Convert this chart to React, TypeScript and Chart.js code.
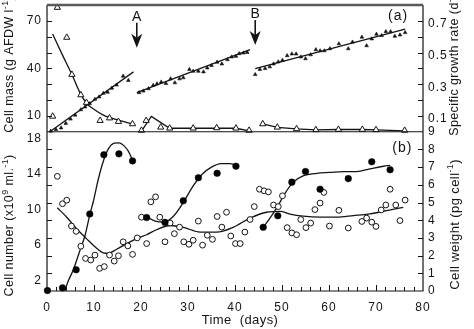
import React, { useEffect, useRef } from 'react';
import { Chart, registerables } from 'chart.js';

Chart.register(...registerables);

const FONT = '"Liberation Sans", Arial, Helvetica, sans-serif';

// ---------- Panel (a): cell mass (filled triangles) ----------
const massDay = [0.8, 1.9, 3.0, 4.0, 5.0, 6.0, 7.2, 8.1, 9.1, 10.2, 11.1, 12.0, 12.9, 13.8, 14.8, 16.2, 17.3,
  19.6, 20.5, 21.6, 22.6, 23.4, 24.3, 25.3, 26.3, 27.2, 28.2, 29.0, 30.3, 31.1, 32.2, 33.3, 34.1, 35.0, 36.2, 37.2, 38.4, 39.3, 40.2, 40.9, 41.8, 42.6,
  44.3, 45.3, 46.4, 47.4, 48.2, 49.2, 50.1, 51.1, 52.1, 53.0, 54.0, 55.0, 56.1, 57.2, 58.1, 59.0, 60.2, 62.1, 64.1, 65.0, 67.0, 68.0, 69.1, 70.1, 71.2, 72.1, 73.1, 74.0, 75.1, 76.2];
const massVal = [0.4, 1.4, 2.4, 5.3, 8.0, 10.5, 13.9, 15.6, 17.8, 20.5, 22.0, 24.3, 25.0, 27.5, 29.5, 35.1, 32.4,
  24.7, 25.7, 27.2, 29.3, 30.3, 31.4, 30.5, 33.4, 30.9, 33.4, 34.1, 39.3, 38.2, 38.2, 37.8, 40.3, 41.8, 43.9, 42.8, 45.5, 47.2, 47.6, 49.3, 49.7, 50.1,
  36.1, 39.3, 39.9, 41.0, 42.8, 44.1, 45.1, 48.0, 49.1, 49.1, 47.2, 46.1, 48.6, 51.8, 51.1, 51.1, 52.4, 55.5, 52.4, 56.6, 59.7, 54.3, 58.6, 61.6, 60.7, 63.2, 63.2, 60.3, 61.1, 62.6];
// regression lines for cell mass
const massFit1Day = [0.6, 18.4];
const massFit1Val = [0, 37.8];
const massFit2Day = [19.1, 43.2];
const massFit2Val = [24.7, 51.8];
const massFit3Day = [44.3, 76.2];
const massFit3Val = [39.9, 64.7];

// ---------- Panel (a): specific growth rate (open triangles) ----------
const growthDay = [1.2, 2.2, 4.2, 5.3, 7.2, 8.4, 11.3, 13.3, 15.2, 18.2, 20.1, 21.1, 24.2, 26.1, 31.1, 36.1, 40.2, 43.0, 45.9, 49.0, 53.1, 57.2, 62.0, 67.1, 70.0, 76.1];
const growthVal = [0.097, 0.784, 0.595, 0.361, 0.232, 0.184, 0.07, 0.086, 0.064, 0.049, 0.008, 0.07, 0.028, 0.022, 0.022, 0.024, 0.022, 0.008, 0.049, 0.028, 0.018, 0.012, 0.014, 0.014, 0.012, 0.008];
const growthFit1Day = [1.2, 3.2, 5.3, 7.0, 8.4, 9.9, 12.0, 14.8, 18.2];
const growthFit1Val = [0.617, 0.49, 0.361, 0.247, 0.18, 0.143, 0.105, 0.076, 0.049];
const growthFit2Day = [20.1, 22.2, 26.1, 40.2, 43.0];
const growthFit2Val = [0.004, 0.097, 0.022, 0.022, 0.005];
const growthFit3Day = [45.9, 49.0, 53.1, 57.2, 62.0, 67.1, 70.0, 76.1];
const growthFit3Val = [0.049, 0.028, 0.018, 0.012, 0.014, 0.014, 0.012, 0.005];

// ---------- Panel (b): cell number (filled circles) ----------
const numDay = [0.1, 3.3, 6.2, 9.1, 12.1, 15.3, 18.2, 21.2, 25.1, 29.0, 32.2, 36.2, 40.2, 46.0, 49.1, 52.1, 55.0, 58.1, 64.1, 69.1, 73.0];
const numVal = [0.05, 0.35, 2.4, 8.7, 15.4, 15.5, 14.7, 8.3, 7.75, 10.2, 12.8, 13.3, 14.1, 7.2, 8.5, 12.3, 13.5, 11.5, 12.7, 14.6, 13.7];
const numFit1Day = [3.8, 4.5, 5.6, 6.9, 8.1, 9.1, 9.9, 10.9, 12.0, 13.0, 14.3, 15.4, 16.4, 17.3, 18.2];
const numFit1Val = [0.05, 1.1, 2.4, 4.4, 6.3, 8.6, 10.2, 12.6, 14.7, 16.0, 16.7, 16.75, 16.4, 15.8, 14.8];
const numFit2Day = [21.2, 23, 25, 27, 29, 31, 33, 35, 37, 39, 40.7];
const numFit2Val = [8.4, 7.9, 7.8, 8.5, 10.0, 11.8, 13.2, 14.0, 14.4, 14.4, 14.1];
const numFit3Day = [46.0, 47.4, 49.0, 50.6, 52.4, 54.5, 57.4, 60.2, 63.0, 65.9, 68.7, 71.6, 73.0];
const numFit3Val = [7.2, 8.2, 9.5, 11.0, 12.3, 13.0, 13.3, 13.4, 13.5, 13.5, 13.8, 14.1, 14.2];

// ---------- Panel (b): cell weight (open circles) ----------
const weightDay = [2.2, 3.3, 4.2, 5.2, 6.2, 7.2, 8.2, 9.3, 10.2, 11.2, 12.2, 13.3, 14.3, 15.2, 16.2, 17.2, 18.2, 19.2, 20.1, 21.2, 22.1, 23.1, 24.0,
  25.1, 26.2, 27.1, 28.2, 29.1, 30.2, 31.1, 32.2, 33.1, 34.1, 35.2, 36.2, 37.2, 38.2, 39.1, 40.1, 41.1, 42.1, 43.2, 44.1, 45.2, 46.2, 47.1, 48.2, 49.2,
  50.1, 51.1, 52.1, 53.1, 54.0, 55.1, 56.1, 57.0, 58.1, 58.9, 60.1, 62.1, 64.1, 67.0, 68.0, 69.1, 70.0, 71.1, 72.1, 73.0, 74.2, 75.1, 76.2];
const weightVal = [6.48, 4.93, 5.13, 3.67, 3.37, 2.53, 1.84, 1.75, 2.03, 1.28, 1.38, 2.03, 1.69, 1.99, 2.78, 2.55, 2.07, 3.0, 4.17, 2.68, 5.04, 5.32, 4.17,
  2.78, 3.84, 3.24, 3.61, 2.78, 2.64, 2.87, 3.95, 2.59, 3.15, 2.92, 4.21, 3.61, 4.45, 3.11, 2.68, 2.68, 3.33, 4.04, 4.77, 5.75, 5.66, 5.6, 4.86, 4.77,
  5.38, 3.58, 3.28, 3.18, 4.04, 3.58, 3.84, 4.6, 4.97, 5.57, 3.67, 4.56, 3.56, 3.93, 4.12, 3.89, 3.65, 4.58, 4.86, 5.75, 4.86, 3.98, 5.14];
const weightFitDay = [2.2, 4.2, 6.3, 8.4, 10.2, 12.0, 13.0, 14.8, 17.0, 19.1, 21.2, 23.3, 26.2, 29.0, 32.6, 36.1, 39.6, 43.2, 46.7, 49.6, 51.7, 54.5, 58.1, 61.6, 65.2, 68.7, 72.3, 75.8];
const weightFitVal = [4.70, 4.17, 3.52, 2.96, 2.50, 2.15, 2.12, 2.36, 2.68, 2.96, 3.18, 3.46, 3.70, 3.60, 3.33, 3.33, 3.60, 4.12, 4.45, 4.50, 4.35, 4.23, 4.17, 4.17, 4.26, 4.36, 4.54, 4.73];

// ---------- annotations ----------
const arrowDay = [19.1, 44.3];
const arrowLabel = ['A', 'B'];
const arrowTipMass = [53, 54.7];

const pts = (xs: number[], ys: number[]) => xs.map((x, i) => ({ x, y: ys[i] }));

const INK = '#141414';

function lineDs(xs: number[], ys: number[], axis: string, smooth: boolean) {
  return {
    data: pts(xs, ys),
    yAxisID: axis,
    showLine: true,
    borderColor: INK,
    borderWidth: 1.3,
    pointRadius: 0,
    tension: smooth ? 0.4 : 0,
    cubicInterpolationMode: smooth ? 'monotone' : 'default',
    fill: false,
  };
}

type Part = { t: string; sup?: boolean };

function drawRich(ctx: CanvasRenderingContext2D, parts: Part[], cx: number, cy: number, rotate: boolean, size: number) {
  ctx.save();
  ctx.translate(cx, cy);
  if (rotate) ctx.rotate(-Math.PI / 2);
  (ctx as any).letterSpacing = '0.4px';
  const fonts = parts.map((p) => `${p.sup ? Math.round(size * 0.72) : size}px ${FONT}`);
  let total = 0;
  parts.forEach((p, i) => {
    ctx.font = fonts[i];
    total += ctx.measureText(p.t).width;
  });
  let x = -total / 2;
  ctx.textBaseline = 'middle';
  ctx.textAlign = 'left';
  ctx.fillStyle = INK;
  parts.forEach((p, i) => {
    ctx.font = fonts[i];
    ctx.fillText(p.t, x, p.sup ? -size * 0.38 : 0);
    x += ctx.measureText(p.t).width;
  });
  ctx.restore();
}

const decor = {
  id: 'decor',
  beforeDraw(chart: any) {
    const ctx = chart.ctx;
    ctx.save();
    ctx.fillStyle = '#fff';
    ctx.fillRect(0, 0, chart.width, chart.height);
    ctx.restore();
    (ctx as any).letterSpacing = '1px';
  },
  beforeDatasetsDraw(chart: any) {
    (chart.ctx as any).letterSpacing = '0px';
  },
  afterDraw(chart: any) {
    const ctx: CanvasRenderingContext2D = chart.ctx;
    const { left, right, top, bottom } = chart.chartArea;
    const sx = chart.scales.x;
    const sm = chart.scales.yMass;
    const sc = chart.scales.yCell;
    const sg = chart.scales.yGrowth;
    const sw = chart.scales.yWeight;
    const sep = sm.bottom;
    ctx.save();
    // frame
    ctx.strokeStyle = INK;
    ctx.lineWidth = 1.2;
    ctx.beginPath();
    ctx.moveTo(left, top);
    ctx.lineTo(left, bottom);
    ctx.lineTo(right, bottom);
    ctx.lineTo(right, top);
    ctx.moveTo(left, sep);
    ctx.lineTo(right, sep);
    ctx.stroke();
    ctx.strokeStyle = '#5a5a5a';
    ctx.lineWidth = 2.4;
    ctx.beginPath();
    ctx.moveTo(left, top);
    ctx.lineTo(right, top);
    ctx.stroke();

    // inward ticks
    ctx.strokeStyle = INK;
    ctx.lineWidth = 1;
    ctx.beginPath();
    for (const t of sx.ticks) {
      const v = t.value;
      if (v <= 0 || v >= 80) continue;
      const px = Math.round(sx.getPixelForValue(v)) + 0.5;
      const len = v % 10 === 0 ? 6 : 4;
      ctx.moveTo(px, bottom);
      ctx.lineTo(px, bottom - len);
    }
    for (const t of sm.ticks) {
      if (t.value <= 0 || t.value >= 80) continue;
      const py = Math.round(sm.getPixelForValue(t.value)) + 0.5;
      ctx.moveTo(left, py);
      ctx.lineTo(left + 5, py);
    }
    for (const t of sc.ticks) {
      if (t.value <= 0 || t.value >= 18) continue;
      const py = Math.round(sc.getPixelForValue(t.value)) + 0.5;
      ctx.moveTo(left, py);
      ctx.lineTo(left + 5, py);
    }
    for (const t of sg.ticks) {
      const k = Math.round(t.value * 10);
      if (k <= 0 || k >= 8) continue;
      const py = Math.round(sg.getPixelForValue(t.value)) + 0.5;
      ctx.moveTo(right, py);
      ctx.lineTo(right - 5, py);
    }
    for (const t of sw.ticks) {
      if (t.value <= 0 || t.value >= 9) continue;
      const py = Math.round(sw.getPixelForValue(t.value)) + 0.5;
      ctx.moveTo(right, py);
      ctx.lineTo(right - 5, py);
    }
    ctx.stroke();

    // arrows A and B
    ctx.fillStyle = INK;
    arrowDay.forEach((d, i) => {
      const x = sx.getPixelForValue(d);
      const tip = sm.getPixelForValue(arrowTipMass[i]);
      const headTop = tip - 14;
      ctx.lineWidth = 1.6;
      ctx.beginPath();
      ctx.moveTo(x, tip - 25);
      ctx.lineTo(x, headTop + 4);
      ctx.stroke();
      ctx.beginPath();
      ctx.moveTo(x, tip);
      ctx.lineTo(x - 5.5, headTop);
      ctx.lineTo(x, headTop + 4);
      ctx.lineTo(x + 5.5, headTop);
      ctx.closePath();
      ctx.fill();
      ctx.font = `14px ${FONT}`;
      ctx.textAlign = 'center';
      ctx.textBaseline = 'middle';
      ctx.fillText(arrowLabel[i], x, tip - 31);
    });

    // panel labels
    (ctx as any).letterSpacing = '1px';
    ctx.font = `14px ${FONT}`;
    ctx.textAlign = 'center';
    ctx.textBaseline = 'middle';
    ctx.fillText('(a)', sx.getPixelForValue(74.7), sm.getPixelForValue(72.8));
    ctx.fillText('(b)', sx.getPixelForValue(75.6), sw.getPixelForValue(8.05));
    (ctx as any).letterSpacing = '0px';

    // axis titles
    drawRich(ctx, [{ t: 'Cell mass (g AFDW l' }, { t: '-1', sup: true }, { t: ')' }], 10, (sm.top + sm.bottom) / 2 - 4, true, 12.5);
    drawRich(ctx, [{ t: 'Cell number (x10' }, { t: '9', sup: true }, { t: ' ml.' }, { t: '-1', sup: true }, { t: ')' }], 10, (sc.top + sc.bottom) / 2 + 14, true, 12.5);
    drawRich(ctx, [{ t: 'Specific growth rate (d' }, { t: '-1', sup: true }, { t: ')' }], 455, (sg.top + sg.bottom) / 2 - 6, true, 12.5);
    drawRich(ctx, [{ t: 'Cell weight (pg cell' }, { t: '-1', sup: true }, { t: ')' }], 455, (sw.top + sw.bottom) / 2 + 13, true, 13);
    drawRich(ctx, [{ t: 'Time  (days)' }], (left + right) / 2 + 5, 320, false, 13);
    ctx.restore();
  },
};

const tickFont = { family: FONT, size: 12 };

export default function App() {
  const ref = useRef<HTMLCanvasElement>(null);
  useEffect(() => {
    const canvas = ref.current;
    if (!canvas) return;
    const fixY = (w: number) => (s: any) => {
      s.width = w;
      s.paddingTop = 0;
      s.paddingBottom = 0;
    };
    const chart = new Chart(canvas, {
      type: 'scatter',
      data: {
        datasets: [
          { data: pts(massDay, massVal), yAxisID: 'yMass', pointStyle: 'triangle', pointRadius: 2.1, backgroundColor: INK, borderColor: INK, borderWidth: 0.6, clip: false },
          { data: pts(growthDay, growthVal), yAxisID: 'yGrowth', pointStyle: 'triangle', pointRadius: 3.6, backgroundColor: '#fff', borderColor: INK, borderWidth: 1, clip: false },
          { data: pts(numDay, numVal), yAxisID: 'yCell', pointStyle: 'circle', pointRadius: 3.3, backgroundColor: '#000', borderColor: '#000', borderWidth: 0.5, clip: false },
          { data: pts(weightDay, weightVal), yAxisID: 'yWeight', pointStyle: 'circle', pointRadius: 2.9, backgroundColor: '#fff', borderColor: INK, borderWidth: 1, clip: false },
          lineDs(massFit1Day, massFit1Val, 'yMass', false),
          lineDs(massFit2Day, massFit2Val, 'yMass', false),
          lineDs(massFit3Day, massFit3Val, 'yMass', false),
          lineDs(growthFit1Day, growthFit1Val, 'yGrowth', true),
          lineDs(growthFit2Day, growthFit2Val, 'yGrowth', false),
          lineDs(growthFit3Day, growthFit3Val, 'yGrowth', false),
          lineDs(numFit1Day, numFit1Val, 'yCell', true),
          lineDs(numFit2Day, numFit2Val, 'yCell', true),
          lineDs(numFit3Day, numFit3Val, 'yCell', true),
          lineDs(weightFitDay, weightFitVal, 'yWeight', true),
        ] as any,
      },
      options: {
        animation: false,
        responsive: false,
        events: [],
        layout: { padding: { top: 1, left: 0, right: 0, bottom: 0 } },
        plugins: { legend: { display: false }, tooltip: { enabled: false } },
        scales: {
          x: {
            type: 'linear',
            position: 'bottom',
            min: 0,
            max: 80,
            grid: { display: false, drawTicks: false },
            border: { display: false },
            ticks: {
              stepSize: 2,
              autoSkip: false,
              maxRotation: 0,
              padding: 9,
              color: INK,
              font: tickFont,
              callback: (v: any) => (Math.round(v) % 10 === 0 ? String(Math.round(v)) : ''),
            },
            afterFit: (s: any) => {
              s.height = 38;
              s.paddingLeft = 0;
              s.paddingRight = 0;
            },
          },
          yCell: {
            type: 'linear',
            position: 'left',
            stack: 'L',
            stackWeight: 161.5,
            min: 0,
            max: 18,
            grid: { display: false, drawTicks: false },
            border: { display: false },
            ticks: {
              stepSize: 2,
              autoSkip: false,
              padding: 5,
              labelOffset: 7,
              color: INK,
              font: tickFont,
              callback: (v: any) => (Math.round(v) % 4 === 2 ? String(Math.round(v)) : ''),
            },
            afterFit: fixY(47),
          },
          yMass: {
            type: 'linear',
            position: 'left',
            stack: 'L',
            stackWeight: 128.5,
            min: 0,
            max: 80,
            grid: { display: false, drawTicks: false },
            border: { display: false },
            ticks: {
              stepSize: 10,
              autoSkip: false,
              padding: 5,
              color: INK,
              font: tickFont,
              callback: (v: any) => ([10, 40, 70].includes(Math.round(v)) ? String(Math.round(v)) : ''),
            },
            afterFit: fixY(47),
          },
          yGrowth: {
            type: 'linear',
            position: 'right',
            stack: 'R',
            stackWeight: 128.5,
            min: 0,
            max: 0.8,
            grid: { display: false, drawTicks: false },
            border: { display: false },
            ticks: {
              stepSize: 0.1,
              autoSkip: false,
              padding: 5,
              labelOffset: 3,
              color: INK,
              font: tickFont,
              callback: (v: any) => {
                const k = Math.round(v * 10);
                return k % 2 === 1 ? (k / 10).toFixed(1) : '';
              },
            },
            afterFit: fixY(51),
          },
          yWeight: {
            type: 'linear',
            position: 'right',
            stack: 'R',
            stackWeight: 161.5,
            min: 0,
            max: 9,
            grid: { display: false, drawTicks: false },
            border: { display: false },
            ticks: {
              stepSize: 1,
              autoSkip: false,
              padding: 5,
              color: INK,
              font: tickFont,
              callback: (v: any) => String(Math.round(v)),
            },
            afterFit: fixY(51),
          },
        },
      } as any,
      plugins: [decor],
    });
    return () => chart.destroy();
  }, []);
  return (
    <div style={{ position: 'fixed', left: 0, top: 0, width: 474, height: 329, background: '#fff' }}>
      <canvas ref={ref} width={474} height={329} style={{ display: 'block', width: 474, height: 329 }} />
    </div>
  );
}
